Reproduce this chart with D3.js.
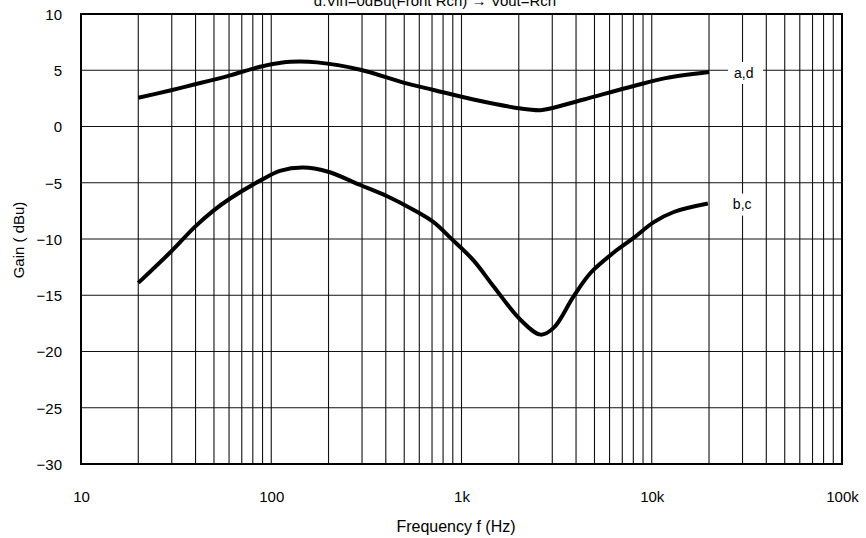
<!DOCTYPE html>
<html><head><meta charset="utf-8">
<script src="https://cdn.jsdelivr.net/npm/d3@7"></script>
<style>
body{margin:0;background:#fff;}
svg{display:block;font-family:"Liberation Sans",Arial,sans-serif;}
</style></head>
<body><svg id="c" width="866" height="538"></svg>
<script>
const titleText = "d:Vin=0dBu(Front Rch) \u2192 Vout=Rch";
const xTickValues = [10, 100, 1000, 10000, 100000];
const xTickLabels = ["10", "100", "1k", "10k", "100k"];
const yTickValues = [10, 5, 0, -5, -10, -15, -20, -25, -30];
const seriesNames = ["a,d", "b,c"];
const freqAD = [20, 29.4, 39.8, 60.8, 80.6, 102, 126, 174, 294, 495, 713, 1156, 2047, 2600, 2927, 4400, 8035, 11800, 20000];
const gainAD = [2.55, 3.2, 3.75, 4.55, 5.15, 5.55, 5.75, 5.7, 5.05, 3.9, 3.25, 2.4, 1.6, 1.45, 1.6, 2.4, 3.6, 4.3, 4.85];
const freqBC = [20, 29.4, 39.8, 49.5, 60.8, 89.8, 111, 147, 197, 294, 407, 558, 713, 875, 1156, 1472, 2047, 2608, 3050, 3883, 4775, 6310, 8035, 10250, 13060, 19720];
const gainBC = [-13.9, -11.2, -8.9, -7.5, -6.4, -4.7, -3.95, -3.65, -4.0, -5.2, -6.2, -7.4, -8.5, -9.9, -11.9, -14.2, -17.2, -18.5, -17.9, -15.1, -13.0, -11.2, -9.9, -8.5, -7.6, -6.85];

const svg = d3.select("#c");
const L = 81, R = 842, T = 14, B = 464;
const x = d3.scaleLog().domain([10, 100000]).range([L, R]);
const y = d3.scaleLinear().domain([-30, 10]).range([B, T]);

const vgrid = [];
for (let d = 10; d < 100000; d *= 10) for (let k = 1; k <= 9; k++) vgrid.push(d * k);
vgrid.push(100000);
svg.append("g").selectAll("line").data(vgrid).join("line")
  .attr("x1", d => x(d)).attr("x2", d => x(d)).attr("y1", T).attr("y2", B)
  .attr("stroke", "#111").attr("stroke-width", 1.1);
svg.append("g").selectAll("line").data(yTickValues).join("line")
  .attr("x1", L).attr("x2", R).attr("y1", d => y(d)).attr("y2", d => y(d))
  .attr("stroke", "#111").attr("stroke-width", 1.1);
svg.append("rect").attr("x", L).attr("y", T).attr("width", R - L).attr("height", B - T)
  .attr("fill", "none").attr("stroke", "#000").attr("stroke-width", 2);

const FONT = "Liberation Sans, Arial, sans-serif";
const xAxis = d3.axisBottom(x).tickValues(xTickValues).tickSize(0).tickPadding(0)
  .tickFormat((d, i) => xTickLabels[i]);
const gx = svg.append("g").attr("transform", `translate(0,${B + 33})`).call(xAxis);
gx.select(".domain").remove();
gx.selectAll("text").attr("font-size", 15).attr("fill", "#000").attr("dy", "0.35em")
  .attr("font-family", FONT);
const yAxis = d3.axisLeft(y).tickValues(yTickValues).tickSize(0).tickPadding(0)
  .tickFormat(d => d < 0 ? "\u2212" + Math.abs(d) : String(d));
const gy = svg.append("g").attr("transform", `translate(${L - 19},0)`).call(yAxis);
gy.select(".domain").remove();
gy.selectAll("text").attr("font-size", 15).attr("fill", "#000").attr("dy", "0.35em")
  .attr("font-family", FONT);

const line = d3.line().x(d => x(d[0])).y(d => y(d[1])).curve(d3.curveCatmullRom.alpha(0.5));
const seriesData = [d3.zip(freqAD, gainAD), d3.zip(freqBC, gainBC)];
svg.append("g").selectAll("path").data(seriesData).join("path")
  .attr("d", line).attr("fill", "none").attr("stroke", "#000")
  .attr("stroke-width", 4).attr("stroke-linejoin", "round");

const lab = svg.append("g").selectAll("g").data(seriesNames).join("g")
  .attr("transform", (d, i) => {
    const arrF = i === 0 ? freqAD : freqBC, arrG = i === 0 ? gainAD : gainBC;
    const n = arrF.length - 1;
    return `translate(${x(arrF[n]) + 25},${y(arrG[n]) + 1})`;
  });
lab.append("rect").attr("x", -6).attr("y", -11).attr("width", 35).attr("height", 22).attr("fill", "#fff");
lab.append("text").text(d => d).attr("font-size", 14).attr("dy", "0.35em").attr("fill", "#000");

svg.append("text").attr("x", 435).attr("y", 6).attr("text-anchor", "middle")
  .attr("font-size", 15).text(titleText);
svg.append("text").attr("x", 456).attr("y", 532).attr("text-anchor", "middle")
  .attr("font-size", 16).text("Frequency f (Hz)");
svg.append("text").attr("transform", "translate(24,240) rotate(-90)").attr("text-anchor", "middle")
  .attr("font-size", 15).text("Gain ( dBu)");
</script></body></html>
